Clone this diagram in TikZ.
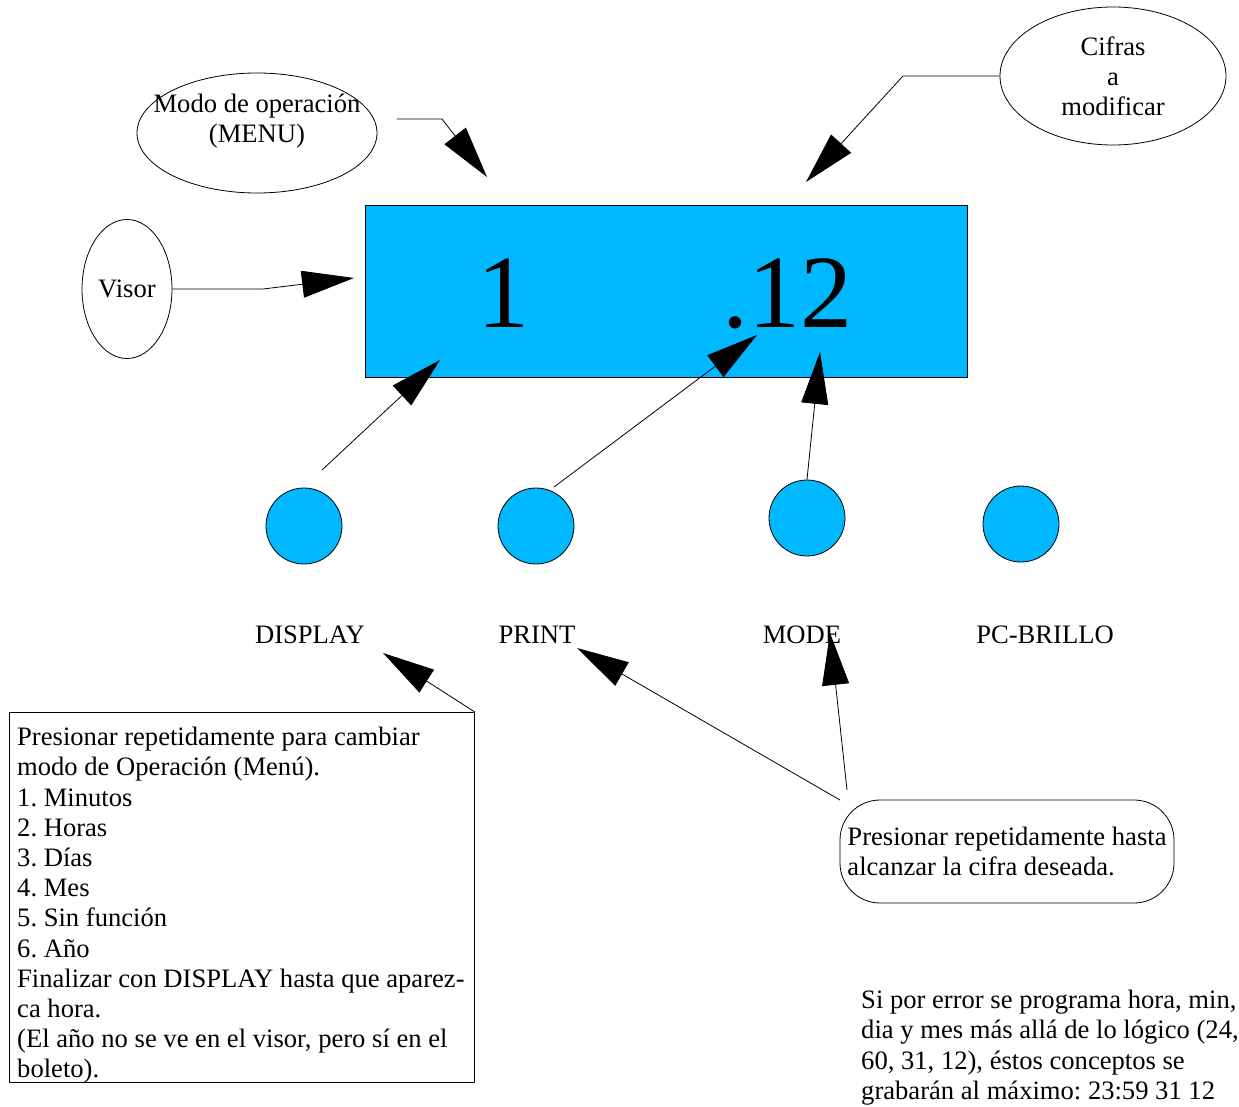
\documentclass[tikz,border=0pt]{standalone}
\usepackage{fontspec}
\setmainfont{Liberation Serif}
\usetikzlibrary{arrows.meta,shapes.geometric}
\definecolor{lcdblue}{RGB}{0,184,255}
\frenchspacing
\begin{document}
\begin{tikzpicture}[x=1pt,y=-1pt,
  txt/.style={font=\fontsize{26.6}{30.2}\selectfont, inner sep=0pt},
  oval/.style={draw, ellipse, line width=0.8pt, inner sep=0pt},
  btn/.style={draw, circle, fill=lcdblue, minimum size=76pt, inner sep=0pt, line width=0.8pt},
  conn/.style={line width=0.8pt, -{Triangle[length=52pt,width=27pt]}},
]
\useasboundingbox (0,0) rectangle (1239,1107);

% display panel
\node[draw, fill=lcdblue, line width=0.8pt, minimum width=602pt, minimum height=172pt, anchor=north west, inner sep=0pt] (panel) at (365,205) {};
\node[font=\fontsize{104}{110}\selectfont, inner sep=0pt, anchor=base] (d1) at (503,327) {1};
\node[font=\fontsize{104}{110}\selectfont, inner sep=0pt, anchor=base] (d12) at (787,327) {.12};

% ellipses
\node[oval, minimum width=240pt, minimum height=120pt] (menu) at (257,133) {};
\node[txt, align=center] (menutext) at (257,121) {Modo de operación\\(MENU)};
\node[oval, txt, align=center, minimum width=226pt, minimum height=138pt] (cifras) at (1113,76) {Cifras\\a\\modificar};
\node[oval, txt, minimum width=90pt, minimum height=139pt] (visor) at (127,289) {Visor};

% buttons
\node[btn] (bdisp) at (304,526) {};
\node[btn] (bprint) at (536,526) {};
\node[btn] (bmode) at (807,518) {};
\node[btn] (bpc) at (1021,524) {};

% button labels
\node[txt, anchor=base] (ldisp) at (310,643) {DISPLAY};
\node[txt, anchor=base] (lprint) at (537,643) {PRINT};
\node[txt, anchor=base] (lmode) at (802,643) {MODE};
\node[txt, anchor=base] (lpc) at (1045,643) {PC-BRILLO};

% left box
\node[draw, line width=0.8pt, minimum width=465pt, minimum height=370pt, anchor=north west, inner sep=0pt] (boxL) at (9,712) {};
\node[txt, align=left, anchor=north west] (boxLtext) at (17,727) {Presionar repetidamente para cambiar\\modo de Operación (Menú).\\1. Minutos\\2. Horas\\3. Días\\4. Mes\\5. Sin función\\6. Año\\Finalizar con DISPLAY hasta que aparez-\\ca hora.\\(El año no se ve en el visor, pero sí en el\\boleto).};

% rounded box
\node[draw, line width=0.8pt, rounded corners=40pt, minimum width=334pt, minimum height=103pt, inner xsep=8pt, txt, align=left] (boxR) at (1007,851.5) {Presionar repetidamente hasta\\alcanzar la cifra deseada.};

% note
\node[txt, align=left, anchor=north west] (note) at (861,990) {Si por error se programa hora, min,\\dia y mes más allá de lo lógico (24,\\60, 31, 12), éstos conceptos se\\grabarán al máximo: 23:59 31 12};

% coordinates
\coordinate (menuS) at (397,119);
\coordinate (menuB) at (442,119);
\coordinate (menuT) at (487,177);
\coordinate (cifB) at (903,76);
\coordinate (cifT) at (806,182);
\coordinate (visB) at (263,289);
\coordinate (visT) at (354,278);
\coordinate (dispS) at (322,470);
\coordinate (dispT) at (440,360);
\coordinate (printS) at (554,487);
\coordinate (printT) at (757,335);
\coordinate (modeT) at (820,352);
\coordinate (boxLT) at (383,653);
\coordinate (rPS) at (840,800);
\coordinate (rPT) at (577,648);
\coordinate (rMS) at (847,790);
\coordinate (rMT) at (830,633);

% connectors
\draw[conn] (menuS) -- (menuB) -- (menuT);
\draw[conn] (cifras.west) -- (cifB) -- (cifT);
\draw[conn] (visor.east) -- (visB) -- (visT);
\draw[conn] (dispS) -- (dispT);
\draw[conn] (printS) -- (printT);
\draw[conn] (bmode.north) -- (modeT);
\draw[conn] (boxL.north east) -- (boxLT);
\draw[conn] (rPS) -- (rPT);
\draw[conn] (rMS) -- (rMT);
\end{tikzpicture}
\end{document}
